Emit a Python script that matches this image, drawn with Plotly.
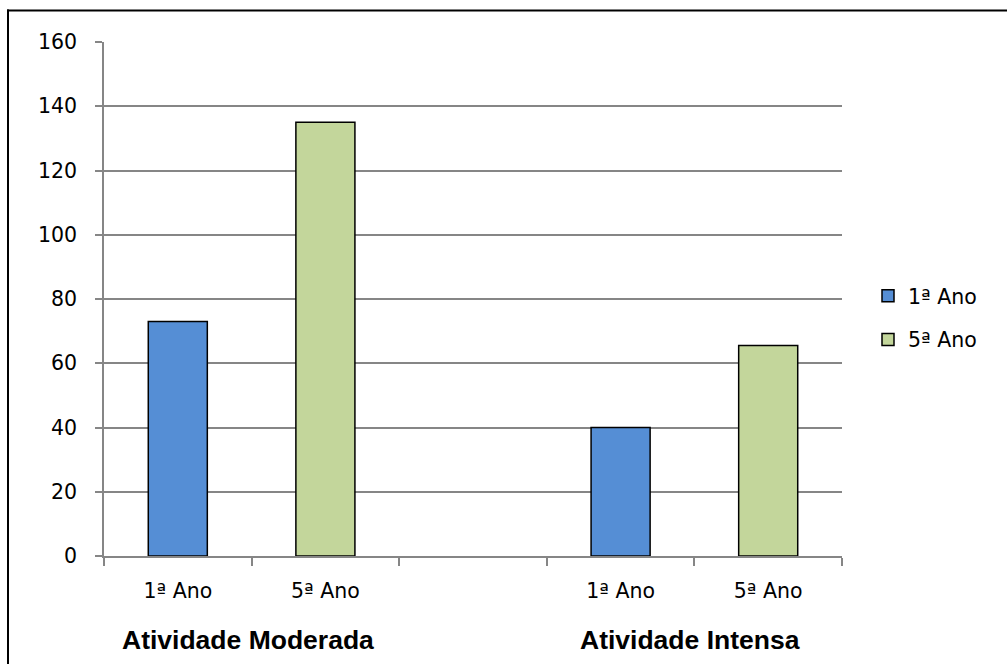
import plotly.graph_objects as go

# Category slots along the x axis (the middle slot is an empty spacer)
groups = ["Atividade Moderada", "Atividade Intensa"]
slot_labels = ["1ª Ano", "5ª Ano", "", "1ª Ano", "5ª Ano"]
series_names = ["1ª Ano", "5ª Ano"]

# Values per series, one per activity group
ano1_values = [73, 40]
ano5_values = [135, 65.5]

# Slot index of each series' bar within each group
ano1_slots = [0, 3]
ano5_slots = [1, 4]
group_centers = [0.5, 3.5]

y_ticks = [0, 20, 40, 60, 80, 100, 120, 140, 160]

BLUE = "#558ED5"
GREEN = "#C3D69B"
GRID = "#868686"

W, H = 1007, 664
ML, MR, MT, MB = 104, 165, 42, 108

fig = go.Figure()
fig.add_trace(go.Bar(
    x=ano1_slots, y=ano1_values, name=series_names[0], legendgroup="a",
    width=0.4, marker=dict(color=BLUE, line=dict(color="#000000", width=1.5)),
))
fig.add_trace(go.Bar(
    x=ano5_slots, y=ano5_values, name=series_names[1], legendgroup="b",
    width=0.4, marker=dict(color=GREEN, line=dict(color="#000000", width=1.5)),
))

label_font = dict(family="DejaVu Sans, sans-serif", size=20.5, color="#000000")

# Group labels beneath the category labels
for name, cx in zip(groups, group_centers):
    fig.add_annotation(
        x=cx, xref="x", y=-(640 - (H - MB)) / (H - MT - MB), yref="paper",
        text=f"<b>{name}</b>", showarrow=False, xanchor="center", yanchor="middle",
        xshift=-4,
        font=dict(family="Liberation Sans, Arial, sans-serif", size=26.5, color="#000000"),
    )

# Outer chart frame (top and left edges only) as thin filled strips
pw, ph = W - ML - MR, H - MT - MB
def px_x(p):
    return (p - ML) / pw
def px_y(p):
    return (H - MB - p) / ph
fig.add_shape(type="rect", xref="paper", yref="paper", layer="above",
              x0=px_x(7), x1=px_x(W), y0=px_y(11.5), y1=px_y(9.5),
              fillcolor="#000000", line=dict(width=0))
fig.add_shape(type="rect", xref="paper", yref="paper", layer="above",
              x0=px_x(7), x1=px_x(9), y0=px_y(H), y1=px_y(9.5),
              fillcolor="#000000", line=dict(width=0))

fig.update_layout(
    width=W, height=H,
    margin=dict(l=ML, r=MR, t=MT, b=MB, pad=0),
    paper_bgcolor="#FFFFFF", plot_bgcolor="#FFFFFF",
    barmode="overlay",
    font=label_font,
    showlegend=True,
    legend=dict(
        x=px_x(868), xanchor="left", y=px_y(318), yanchor="middle",
        font=label_font, tracegroupgap=14, traceorder="grouped",
        itemwidth=30, bgcolor="rgba(0,0,0,0)",
    ),
    xaxis=dict(
        range=[-0.5, 4.5],
        tickmode="array",
        tickvals=[i for i, s in enumerate(slot_labels) if s],
        ticktext=[s for s in slot_labels if s],
        ticks="", ticklabelstandoff=16,
        showgrid=False, zeroline=False,
        showline=True, linecolor=GRID, linewidth=1.5,
        minor=dict(tickvals=[i - 0.5 for i in range(len(slot_labels) + 1)],
                   ticks="outside", ticklen=8, tickcolor=GRID, tickwidth=1.5,
                   showgrid=False),
        tickfont=label_font, fixedrange=True,
    ),
    yaxis=dict(
        range=[0, 160],
        tickmode="array", tickvals=y_ticks,
        ticks="outside", ticklen=7, tickcolor=GRID, tickwidth=1.5,
        ticklabelstandoff=14,
        showgrid=True, gridcolor=GRID, gridwidth=1.5,
        zeroline=False,
        showline=True, linecolor=GRID, linewidth=1.5,
        tickfont=label_font, fixedrange=True,
    ),
)

fig.write_html("out.html")
